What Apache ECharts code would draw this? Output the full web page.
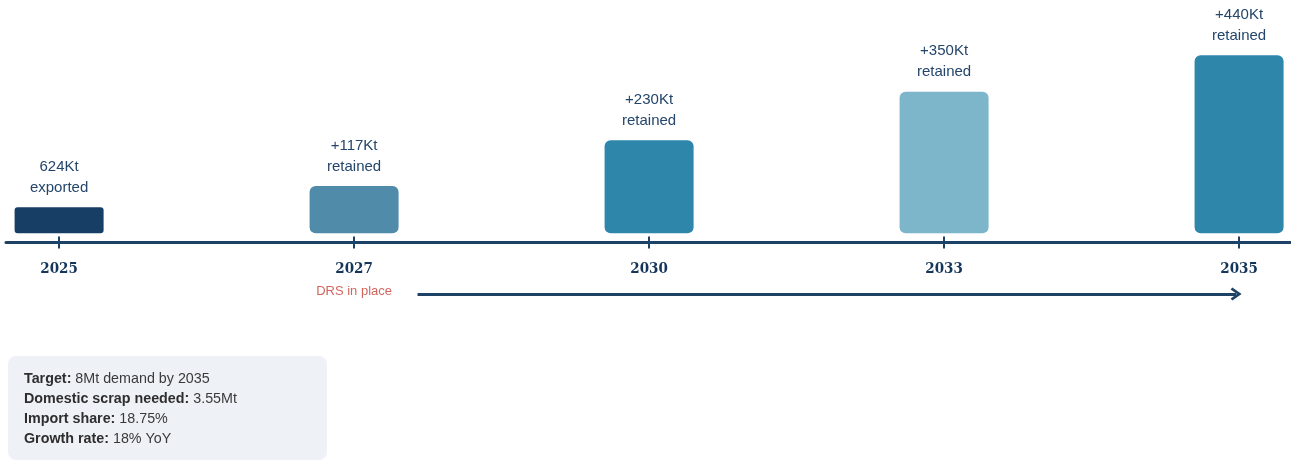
<!DOCTYPE html>
<html>
<head>
<meta charset="utf-8">
<script src="https://cdn.jsdelivr.net/npm/echarts@6/dist/echarts.min.js"></script>
<style>
  html, body { margin: 0; padding: 0; background: #fff; }
  #main { width: 1291px; height: 461px; }
</style>
</head>
<body>
<div id="main"></div>
<script>
var years = ['2025', '2027', '2030', '2033', '2035'];
var barValues = [64, 117, 230, 350, 440];
var labelTop = ['624Kt', '+117Kt', '+230Kt', '+350Kt', '+440Kt'];
var labelBottom = ['exported', 'retained', 'retained', 'retained', 'retained'];
var barColors = ['#173f66', '#508ca9', '#2e87ab', '#7db5cb', '#2e87ab'];
var arrowFrom = 1.215, arrowTo = 3.99;
var infoLines = [
  ['Target:', ' 8Mt demand by 2035'],
  ['Domestic scrap needed:', ' 3.55Mt'],
  ['Import share:', ' 18.75%'],
  ['Growth rate:', ' 18% YoY']
];

var navy = '#1d4266';
var xMin = -0.18, xMax = 4.176;
var chart = echarts.init(document.getElementById('main'));
var idx = years.map(function (y, i) { return i; });

var option = {
  animation: false,
  grid: [
    { left: 6, right: 0, top: 6.7, bottom: 218.5 },
    { left: 6, right: 0, top: 284, height: 20 }
  ],
  xAxis: [
    {
      type: 'value', gridIndex: 0, min: xMin, max: xMax, position: 'bottom',
      splitLine: { show: false },
      axisLine: { show: true, onZero: false, lineStyle: { color: navy, width: 3 } },
      axisTick: { show: true, customValues: idx, length: 6, lineStyle: { color: navy, width: 2 } },
      axisLabel: {
        customValues: idx, margin: 19,
        formatter: function (v) { return years[Math.round(v)]; },
        fontFamily: 'DejaVu Serif Condensed', fontWeight: 'bold', fontSize: 15, color: '#15355a'
      }
    },
    {
      type: 'value', gridIndex: 0, min: xMin, max: xMax, position: 'bottom',
      splitLine: { show: false },
      axisLine: { show: false, onZero: false },
      axisTick: { show: true, inside: true, customValues: idx, length: 6, lineStyle: { color: navy, width: 2 } },
      axisLabel: { show: false }
    },
    {
      type: 'value', gridIndex: 1, min: xMin, max: xMax, show: false
    }
  ],
  yAxis: [
    { type: 'value', gridIndex: 0, min: -23, max: 560, show: false },
    { type: 'value', gridIndex: 1, min: -1, max: 1, show: false }
  ],
  series: [
    {
      type: 'bar',
      xAxisIndex: 0, yAxisIndex: 0,
      barWidth: 89,
      data: barValues.map(function (v, i) {
        return {
          value: [i, v],
          itemStyle: { color: barColors[i], borderRadius: i === 0 ? 3 : 6 }
        };
      }),
      label: {
        show: true, position: 'top', distance: 9,
        fontFamily: 'Liberation Sans', fontSize: 15, lineHeight: 21, color: '#24466b',
        formatter: function (p) { return labelTop[p.dataIndex] + '\n' + labelBottom[p.dataIndex]; }
      }
    },
    {
      type: 'scatter',
      xAxisIndex: 2, yAxisIndex: 1,
      symbolSize: 0,
      data: [[1, 0.25]],
      label: {
        show: true, position: 'inside', formatter: 'DRS in place',
        fontFamily: 'Liberation Sans', fontSize: 13, color: '#c63f35'
      },
      markLine: {
        silent: true,
        symbol: ['none', 'path://M0,11 L8,0 L16,11 L13.4,13 L8,5.4 L2.6,13 Z'],
        symbolSize: [13, 11],
        lineStyle: { color: navy, width: 3, type: 'solid' },
        label: { show: false },
        data: [[{ coord: [arrowFrom, 0] }, { coord: [arrowTo, 0] }]]
      }
    }
  ],
  graphic: [
    {
      type: 'group', left: 8, top: 356,
      children: [
        { type: 'rect', shape: { x: 0, y: 0, width: 319, height: 104, r: 8 }, style: { fill: '#eef1f6' } },
        {
          type: 'text', x: 16, y: 13,
          style: {
            text: infoLines.map(function (l) { return '{b|' + l[0] + '}{n|' + l[1] + '}'; }).join('\n'),
            lineHeight: 20,
            rich: {
              b: { fontFamily: 'Liberation Sans', fontWeight: 'bold', fontSize: 14.3, lineHeight: 20, fill: '#2e2e2e' },
              n: { fontFamily: 'Liberation Sans', fontSize: 14.3, lineHeight: 20, fill: '#3a3a3a' }
            }
          }
        }
      ]
    }
  ]
};

chart.setOption(option);
</script>
</body>
</html>
